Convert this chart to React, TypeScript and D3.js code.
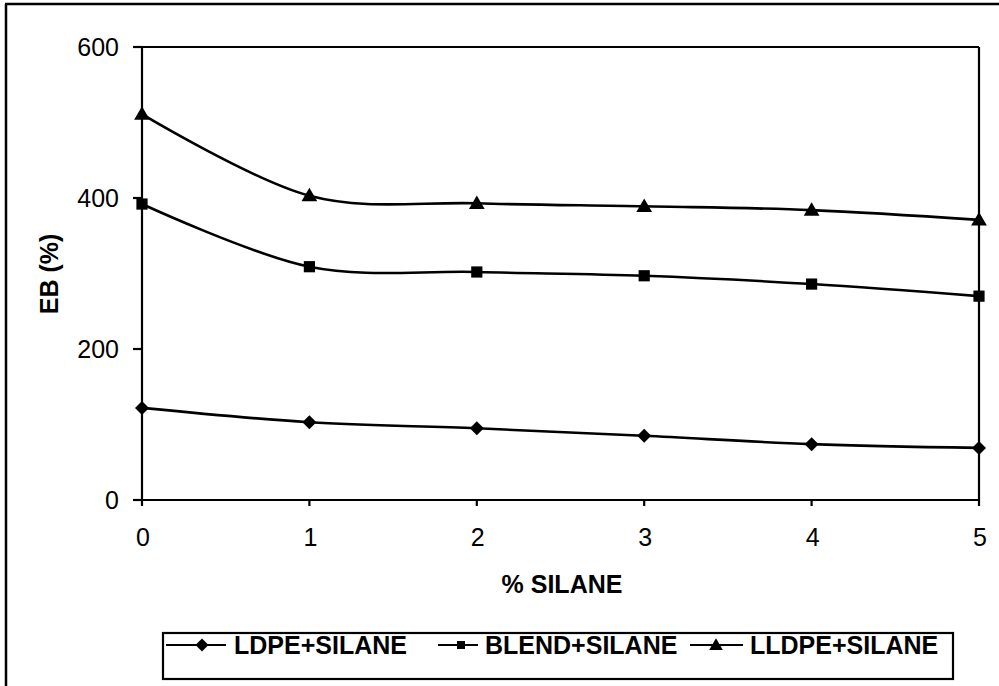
import React from "react";
import * as d3 from "d3";

const silane = [0, 1, 2, 3, 4, 5];
const ldpe = [122, 103, 95, 85, 74, 69];
const blend = [392, 309, 302, 297, 286, 270];
const lldpe = [511, 403, 393, 389, 384, 371];
const yTicks = [0, 200, 400, 600];
const seriesNames = ["LDPE+SILANE", "BLEND+SILANE", "LLDPE+SILANE"];
const markerKinds = ["diamond", "square", "triangle"];

const W = 999;
const H = 686;
const M = { left: 142, right: 979, top: 47, bottom: 500 };
const FONT = "'Liberation Sans', Arial, sans-serif";

function Marker({ kind, x, y, s }: { kind: string; x: number; y: number; s: number }) {
  if (kind === "diamond") {
    return <path d={`M${x},${y - s}L${x + s},${y}L${x},${y + s}L${x - s},${y}Z`} fill="#000" />;
  }
  if (kind === "square") {
    return <rect x={x - s * 0.8} y={y - s * 0.8} width={s * 1.6} height={s * 1.6} fill="#000" />;
  }
  return <path d={`M${x},${y - s * 1.05}L${x + s * 1.05},${y + s * 0.75}L${x - s * 1.05},${y + s * 0.75}Z`} fill="#000" />;
}

export default function App() {
  const x = d3.scaleLinear().domain([0, 5]).range([M.left, M.right]);
  const y = d3.scaleLinear().domain([0, 600]).range([M.bottom, M.top]);
  const line = d3
    .line<number>()
    .x((_, i) => x(silane[i]))
    .y((d) => y(d))
    .curve(d3.curveCatmullRom.alpha(0));
  const series = [ldpe, blend, lldpe];

  const legendItems = [
    { lx1: 166, lx2: 226, mx: 202, tx: 234 },
    { lx1: 438, lx2: 478, mx: 461, tx: 485 },
    { lx1: 690, lx2: 743, mx: 716, tx: 750 },
  ];
  const legendY = 645;

  return (
    <svg
      width={W}
      height={H}
      style={{ position: "absolute", left: 0, top: 0, background: "#fff" }}
      fontFamily={FONT}
    >
      <rect x={0} y={0} width={W} height={H} fill="#fff" />
      {/* outer frame */}
      <line x1={5} y1={4} x2={999} y2={4} stroke="#000" strokeWidth={2.5} />
      <line x1={6} y1={4} x2={6} y2={686} stroke="#000" strokeWidth={2.5} />

      {/* plot box */}
      <line x1={M.left} y1={M.top} x2={M.right} y2={M.top} stroke="#000" strokeWidth={2.2} />
      <line x1={M.right} y1={M.top} x2={M.right} y2={M.bottom} stroke="#000" strokeWidth={2.2} />
      <line x1={M.left} y1={M.top} x2={M.left} y2={M.bottom} stroke="#000" strokeWidth={2.2} />
      <line x1={M.left} y1={M.bottom} x2={M.right} y2={M.bottom} stroke="#000" strokeWidth={2.2} />

      {/* y ticks */}
      {yTicks.map((t) => (
        <g key={"y" + t}>
          <line x1={M.left - 9} x2={M.left} y1={y(t)} y2={y(t)} stroke="#000" strokeWidth={2.2} />
          <text x={119} y={y(t)} dy="0.36em" textAnchor="end" fontSize={25}>
            {t}
          </text>
        </g>
      ))}
      {/* x ticks */}
      {silane.map((t) => (
        <g key={"x" + t}>
          <line x1={x(t)} x2={x(t)} y1={M.bottom} y2={M.bottom + 6} stroke="#000" strokeWidth={2.2} />
          <text x={x(t) + 1} y={546} textAnchor="middle" fontSize={25}>
            {t}
          </text>
        </g>
      ))}

      {/* axis titles */}
      <text
        transform={`translate(58,274) rotate(-90)`}
        textAnchor="middle"
        fontSize={25}
        fontWeight="bold"
      >
        EB (%)
      </text>
      <text x={562} y={593} textAnchor="middle" fontSize={25} fontWeight="bold">
        % SILANE
      </text>

      {/* series */}
      {series.map((s, si) => (
        <g key={"s" + si}>
          <path d={line(s) || ""} fill="none" stroke="#000" strokeWidth={2.6} />
          {s.map((v, i) => (
            <Marker key={i} kind={markerKinds[si]} x={x(silane[i])} y={y(v)} s={si === 2 ? 7.5 : 7} />
          ))}
        </g>
      ))}

      {/* legend */}
      <rect x={163} y={633} width={790} height={46} fill="#fff" stroke="#000" strokeWidth={2.2} />
      {legendItems.map((it, i) => (
        <g key={"l" + i}>
          <line x1={it.lx1} x2={it.lx2} y1={legendY} y2={legendY} stroke="#000" strokeWidth={2.2} />
          <Marker kind={markerKinds[i]} x={it.mx} y={legendY} s={i === 1 ? 5 : 6.5} />
          <text x={it.tx} y={legendY} dy="0.36em" fontSize={25} fontWeight="bold">
            {seriesNames[i]}
          </text>
        </g>
      ))}
    </svg>
  );
}
